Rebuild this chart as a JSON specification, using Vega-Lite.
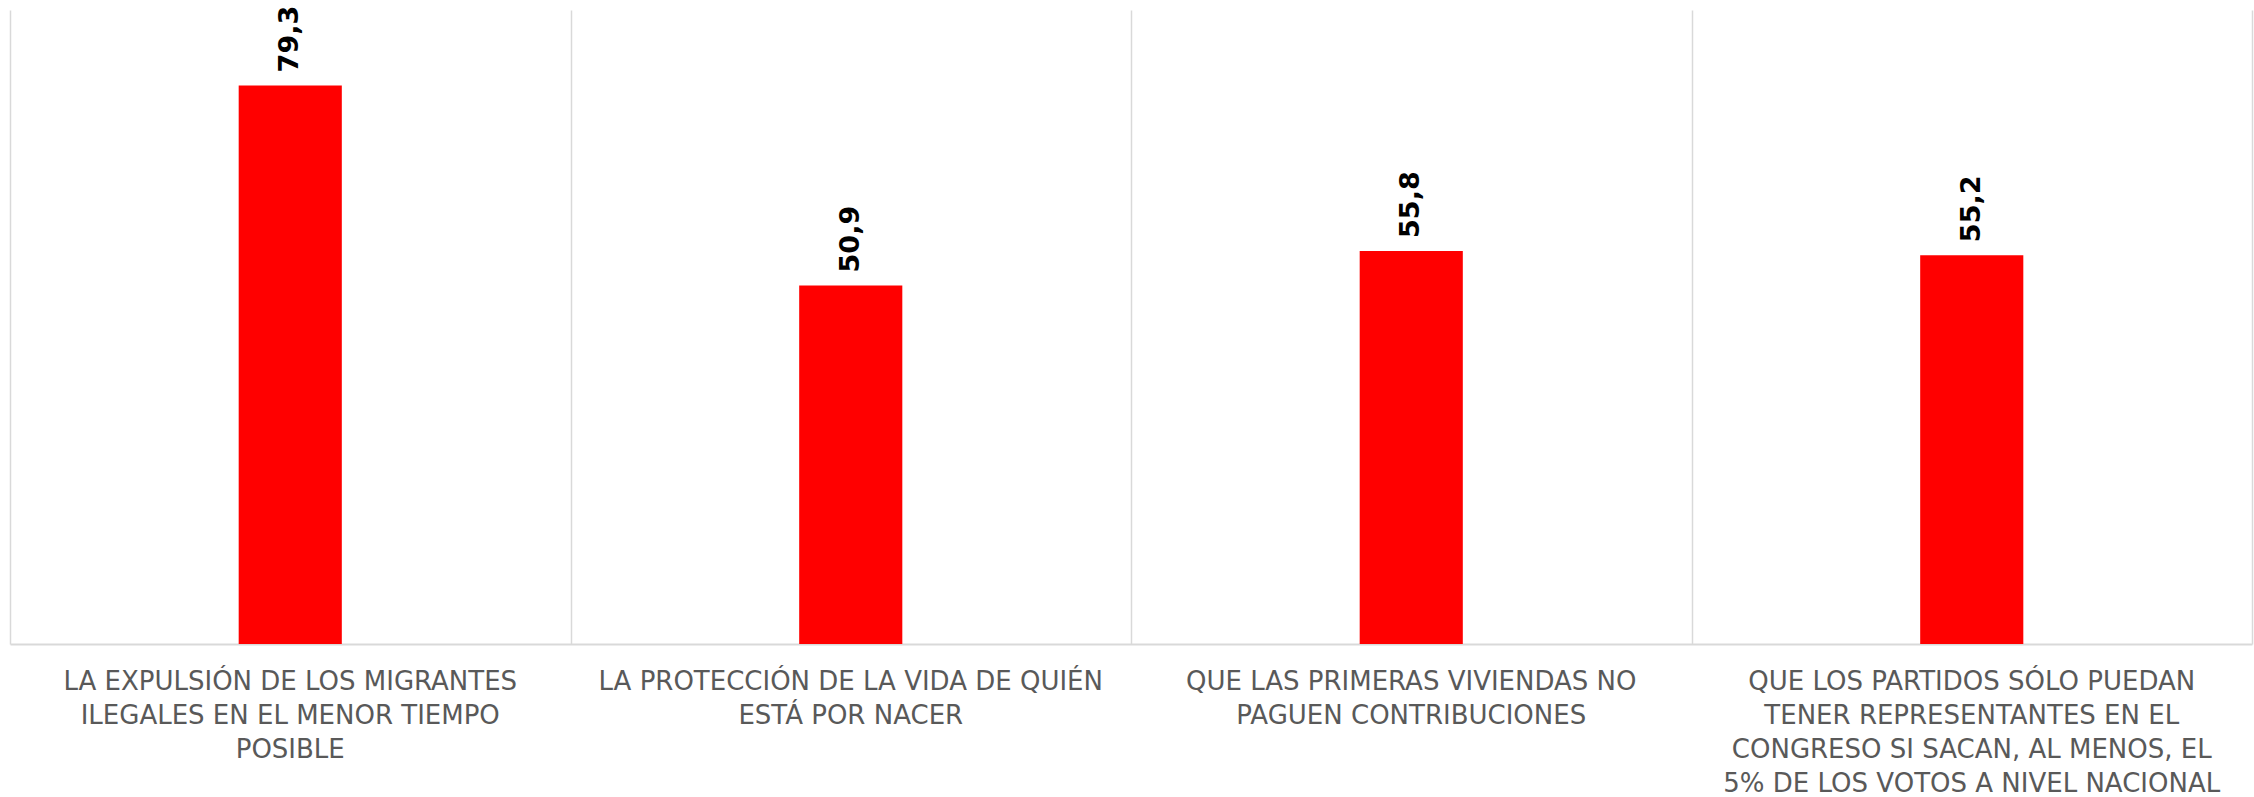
{
  "$schema": "https://vega.github.io/schema/vega-lite/v6.json",
  "width": 2242,
  "height": 634,
  "autosize": "none",
  "padding": {"left": 10, "top": 10, "right": 2, "bottom": 153},
  "background": "white",
  "data": {
    "values": [
      {"tema": "LA EXPULSIÓN DE LOS MIGRANTES|ILEGALES EN EL MENOR TIEMPO|POSIBLE", "valor": 79.3},
      {"tema": "LA PROTECCIÓN DE LA VIDA DE QUIÉN|ESTÁ POR NACER", "valor": 50.9},
      {"tema": "QUE LAS PRIMERAS VIVIENDAS NO|PAGUEN CONTRIBUCIONES", "valor": 55.8},
      {"tema": "QUE LOS PARTIDOS SÓLO PUEDAN|TENER REPRESENTANTES EN EL|CONGRESO SI SACAN, AL MENOS, EL|5% DE LOS VOTOS A NIVEL NACIONAL", "valor": 55.2}
    ]
  },
  "encoding": {
    "x": {
      "field": "tema",
      "type": "nominal",
      "sort": null,
      "scale": {"paddingInner": 0, "paddingOuter": 0},
      "axis": {
        "title": null,
        "labels": false,
        "tickBand": "extent",
        "ticks": false,
        "grid": true,
        "gridColor": "#d9d9d9",
        "gridWidth": 1.5,
        "domainColor": "#d9d9d9",
        "domainWidth": 2
      }
    }
  },
  "layer": [
    {
      "mark": {"type": "bar", "color": "#ff0000", "width": {"band": 0.184}},
      "encoding": {
        "y": {
          "field": "valor",
          "type": "quantitative",
          "scale": {"domain": [0, 90]},
          "axis": null
        }
      }
    },
    {
      "mark": {
        "type": "text",
        "angle": 270,
        "align": "left",
        "baseline": "middle",
        "dx": 13,
        "font": "DejaVu Sans",
        "fontWeight": "bold",
        "fontSize": 27,
        "color": "#000000"
      },
      "encoding": {
        "y": {"field": "valor", "type": "quantitative"},
        "text": {"field": "valor", "type": "quantitative", "format": ".1f"}
      }
    },
    {
      "mark": {
        "type": "text",
        "align": "center",
        "baseline": "top",
        "dy": 25,
        "lineBreak": "|",
        "lineHeight": 34,
        "font": "DejaVu Sans",
        "fontSize": 26,
        "color": "#595959"
      },
      "encoding": {
        "y": {"datum": 0, "type": "quantitative"},
        "text": {"field": "tema", "type": "nominal"}
      }
    }
  ],
  "config": {
    "view": {"stroke": null},
    "locale": {
      "number": {"decimal": ",", "thousands": ".", "grouping": [3], "currency": ["$", ""]}
    }
  }
}
